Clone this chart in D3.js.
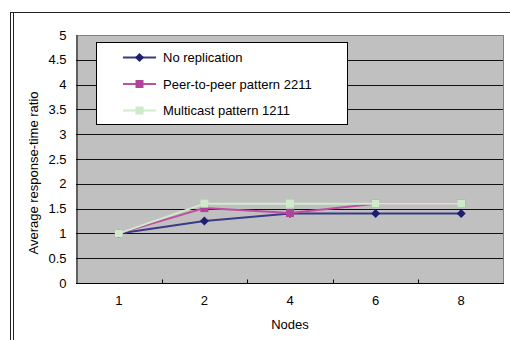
<!DOCTYPE html>
<html>
<head>
<meta charset="utf-8">
<script src="https://cdn.jsdelivr.net/npm/d3@7"></script>
<style>
  html, body { margin: 0; padding: 0; background: #fff; }
  svg { display: block; font-family: Arial, "Liberation Sans", sans-serif; }
</style>
</head>
<body>
<svg id="chart" width="510" height="340"></svg>
<script>
// Node counts along the x axis
const nodes = ["1", "2", "4", "6", "8"];

// Average response-time ratio per series
const noReplication = [1, 1.25, 1.4, 1.4, 1.4];
const peerToPeer2211 = [1, 1.51, 1.41, 1.6, 1.6];
const multicast1211 = [1, 1.6, 1.6, 1.6, 1.6];

const seriesNames = ["No replication", "Peer-to-peer pattern 2211", "Multicast pattern 1211"];

// Y axis tick values
const yTicks = [0, 0.5, 1, 1.5, 2, 2.5, 3, 3.5, 4, 4.5, 5];

const series = [
  { name: seriesNames[0], values: noReplication, line: "#3a3a88", mark: "#1e1e6e", shape: "diamond" },
  { name: seriesNames[1], values: peerToPeer2211, line: "#c24ea4", mark: "#b0439a", shape: "square" },
  { name: seriesNames[2], values: multicast1211, line: "#cfeccb", mark: "#cdeac9", shape: "square" }
];

const svg = d3.select("#chart");
const plot = { left: 76, right: 504, top: 35, bottom: 283 };

const x = d3.scaleBand().domain(nodes).range([plot.left, plot.right]).padding(0);
const y = d3.scaleLinear().domain([0, 5]).range([plot.bottom, plot.top]);

// Outer frame: double rule on the left, single rule on top
svg.append("line").attr("x1", 10.5).attr("x2", 510).attr("y1", 12.5).attr("y2", 12.5)
  .attr("stroke", "#222").attr("stroke-width", 1);
svg.append("line").attr("x1", 10.5).attr("x2", 10.5).attr("y1", 12).attr("y2", 340)
  .attr("stroke", "#222").attr("stroke-width", 1);
svg.append("line").attr("x1", 13.5).attr("x2", 13.5).attr("y1", 13).attr("y2", 340)
  .attr("stroke", "#222").attr("stroke-width", 1);

// Plot area background
svg.append("rect")
  .attr("x", plot.left).attr("y", plot.top)
  .attr("width", plot.right - plot.left).attr("height", plot.bottom - plot.top)
  .attr("fill", "#c0c0c0");

// Horizontal gridlines
svg.append("g").selectAll("line")
  .data(yTicks.filter(v => v > 0 && v < 5))
  .join("line")
  .attr("x1", plot.left).attr("x2", plot.right)
  .attr("y1", d => Math.round(y(d)) + 0.5).attr("y2", d => Math.round(y(d)) + 0.5)
  .attr("stroke", "#111").attr("stroke-width", 1);

// Plot border (top and right)
svg.append("path")
  .attr("d", `M${plot.left},${plot.top + 0.5}H${plot.right - 0.5}V${plot.bottom}`)
  .attr("fill", "none").attr("stroke", "#808080").attr("stroke-width", 1);

// Y axis
const yAxis = d3.axisLeft(y).tickValues(yTicks).tickSize(0).tickPadding(10)
  .tickFormat(d => String(d));
const gy = svg.append("g").attr("transform", `translate(${plot.left + 0.5},0)`).call(yAxis);
gy.select(".domain").attr("stroke", "#000");
gy.selectAll("text").attr("font-size", 13).attr("fill", "#000")
  .attr("font-family", "Arial, 'Liberation Sans', sans-serif");

// X axis with inward tick marks on category boundaries
const gx = svg.append("g").attr("transform", `translate(0,${plot.bottom + 0.5})`)
  .call(d3.axisBottom(x).tickSize(0).tickPadding(12));
gx.select(".domain").attr("stroke", "#000").attr("d", `M${plot.left},0H${plot.right}`);
gx.selectAll("text").attr("font-size", 13).attr("fill", "#000")
  .attr("font-family", "Arial, 'Liberation Sans', sans-serif");
gx.append("g").selectAll("line")
  .data(nodes.slice(1))
  .join("line")
  .attr("x1", d => Math.round(x(d)) + 0.5).attr("x2", d => Math.round(x(d)) + 0.5)
  .attr("y1", 0).attr("y2", -4)
  .attr("stroke", "#000");

// Axis titles
svg.append("text")
  .attr("x", (plot.left + plot.right) / 2).attr("y", 329)
  .attr("text-anchor", "middle").attr("font-size", 13).text("Nodes");
svg.append("text")
  .attr("transform", "translate(38,173) rotate(-90)")
  .attr("text-anchor", "middle").attr("font-size", 13).text("Average response-time ratio");

// Marker drawing helper
function drawMarker(g, shape, cx, cy, color) {
  if (shape === "diamond") {
    g.append("path")
      .attr("d", `M${cx},${cy - 4.5}L${cx + 4.5},${cy}L${cx},${cy + 4.5}L${cx - 4.5},${cy}Z`)
      .attr("fill", color);
  } else {
    g.append("rect")
      .attr("x", cx - 4).attr("y", cy - 4).attr("width", 8).attr("height", 8)
      .attr("fill", color);
  }
}

// Series lines and markers
const line = d3.line()
  .x((d, i) => x(nodes[i]) + x.bandwidth() / 2)
  .y(d => y(d));

series.forEach(s => {
  const g = svg.append("g");
  g.append("path")
    .attr("d", line(s.values))
    .attr("fill", "none").attr("stroke", s.line).attr("stroke-width", 2);
  s.values.forEach((v, i) => {
    drawMarker(g, s.shape, x(nodes[i]) + x.bandwidth() / 2, y(v), s.mark);
  });
});

// Legend
const legend = svg.append("g");
legend.append("rect")
  .attr("x", 96.5).attr("y", 42.5).attr("width", 251).attr("height", 82)
  .attr("fill", "#fff").attr("stroke", "#000").attr("stroke-width", 1);
const rowY = [57.5, 84, 110.5];
series.forEach((s, i) => {
  const ry = rowY[i];
  legend.append("line")
    .attr("x1", 123).attr("x2", 156).attr("y1", ry).attr("y2", ry)
    .attr("stroke", s.line).attr("stroke-width", 2);
  drawMarker(legend, s.shape, 139.5, ry, s.mark);
  legend.append("text")
    .attr("x", 163).attr("y", ry + 4.5)
    .attr("font-size", 13).attr("fill", "#000").text(s.name);
});
</script>
</body>
</html>
